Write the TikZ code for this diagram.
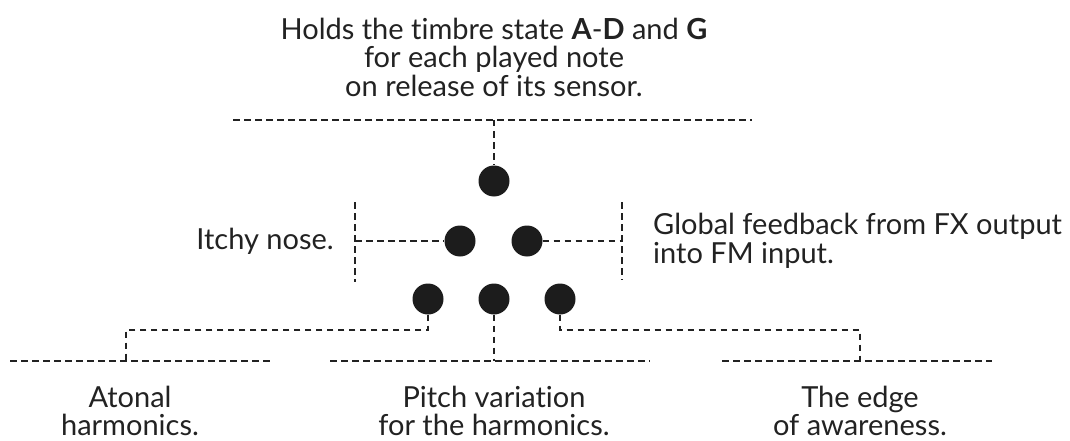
\documentclass[tikz,border=0pt]{standalone}
\usepackage{fontspec}
\setmainfont[Ligatures=NoCommon]{Lato}
\definecolor{ink}{HTML}{222222}
\definecolor{dotc}{HTML}{1C1C1C}
\begin{document}
\begin{tikzpicture}[x=1pt,y=-1pt,
  dotn/.style={circle,fill=dotc,minimum size=31pt,inner sep=0pt},
  conn/.style={draw=ink,line width=1.2pt,dash pattern=on 6.5pt off 4.5pt},
  lbl/.style={text=ink,font=\fontsize{29}{28.5}\selectfont,align=center,inner sep=0pt},
  lblr/.style={text=ink,font=\fontsize{29}{28.5}\selectfont,align=left,inner sep=0pt}]
\useasboundingbox (0,0) rectangle (1070,441);
% dots
\node[dotn] (d1) at (494,181) {};
\node[dotn] (d2) at (460,241) {};
\node[dotn] (d3) at (527,241) {};
\node[dotn] (d4) at (428,299) {};
\node[dotn] (d5) at (494,299) {};
\node[dotn] (d6) at (560,299) {};
% top
\node[lbl] (top) at (494,57) {Holds the timbre state \textbf{A}-\textbf{D} and \textbf{G}\\for each played note\\on release of its sensor.};
\coordinate (tl) at (233,120);
\coordinate (tr) at (752,120);
\coordinate (tj) at (494,120);
\draw[conn] (tl) -- (tr);
\draw[conn] (tj) -- (d1);
% left middle
\coordinate (lt) at (355,202);
\coordinate (lb) at (355,282);
\coordinate (lj) at (355,241);
\draw[conn] (lt) -- (lb);
\draw[conn] (lj) -- (d2);
\node[lbl,anchor=east] (itchy) at (334,241) {Itchy nose.};
% right middle
\coordinate (rt) at (622,202);
\coordinate (rb) at (622,280);
\coordinate (rj) at (622,241);
\draw[conn] (rt) -- (rb);
\draw[conn] (d3) -- (rj);
\node[lblr,anchor=west] (glob) at (653,241) {Global feedback from FX output\\into FM input.};
% bottom left
\coordinate (b1l) at (10,361);
\coordinate (b1r) at (270,361);
\coordinate (b1j) at (126,361);
\coordinate (b1k) at (126,330);
\coordinate (b1d) at (428,330);
\draw[conn] (b1l) -- (b1r);
\draw[conn] (d4) -- (b1d) -- (b1k) -- (b1j);
\node[lbl] (aton) at (130,411) {Atonal\\harmonics.};
% bottom middle
\coordinate (b2l) at (330,361);
\coordinate (b2r) at (650,361);
\coordinate (b2j) at (494,361);
\draw[conn] (b2l) -- (b2r);
\draw[conn] (d5) -- (b2j);
\node[lbl] (pitch) at (494,411) {Pitch variation\\for the harmonics.};
% bottom right
\coordinate (b3l) at (722,361);
\coordinate (b3r) at (992,361);
\coordinate (b3j) at (860,361);
\coordinate (b3k) at (860,330);
\coordinate (b3d) at (560,330);
\draw[conn] (b3l) -- (b3r);
\draw[conn] (d6) -- (b3d) -- (b3k) -- (b3j);
\node[lbl] (edge) at (860,411) {The edge\\of awareness.};
\end{tikzpicture}
\end{document}
